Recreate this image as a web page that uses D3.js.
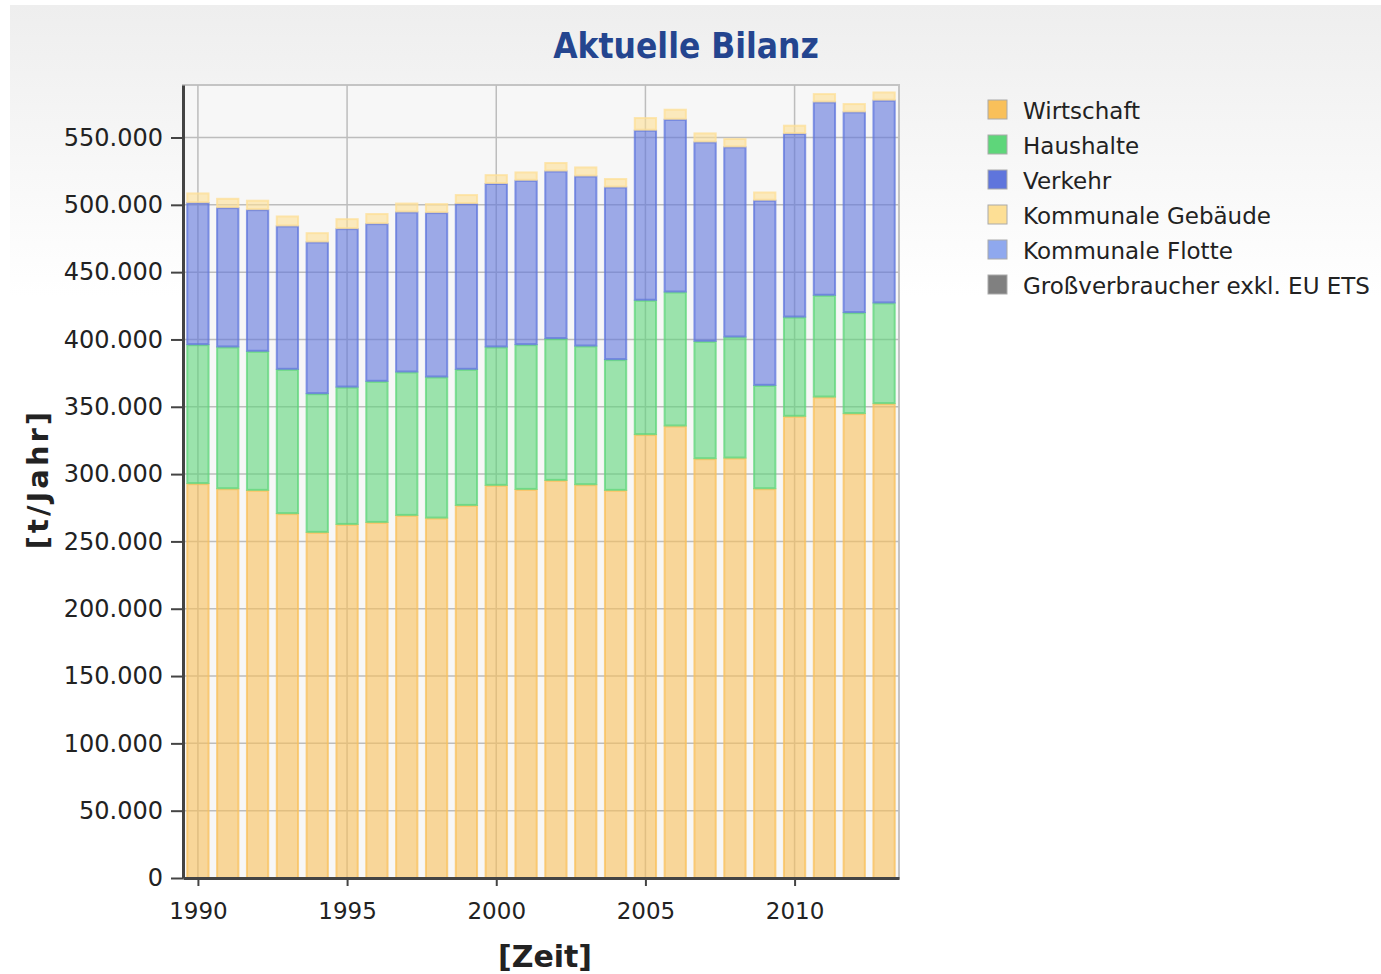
<!DOCTYPE html>
<html lang="de">
<head>
<meta charset="UTF-8">
<title>Aktuelle Bilanz</title>
<script src="https://d3js.org/d3.v7.min.js"></script>
<style>
  body { margin: 0; background: #fff; }
  svg text { font-family: "DejaVu Sans", Verdana, sans-serif; fill: #222; }
</style>
</head>
<body>
<svg id="chart"></svg>
<script>
const years = d3.range(1990, 2014);
const seriesNames = ["Wirtschaft", "Haushalte", "Verkehr", "Kommunale Gebäude", "Kommunale Flotte", "Großverbraucher exkl. EU ETS"];
const seriesColors = ["#f9c05a", "#5ed67a", "#5f75dc", "#fddf95", "#8fa8ee", "#808080"];

// t/Jahr
const wirtschaft = [293300, 289500, 288300, 271000, 257100, 263000, 264500, 269700, 267700, 277100, 292000, 289000,
                    295700, 292500, 288300, 329700, 336100, 311800, 312300, 289500, 343300, 357600, 345300, 352700];
const haushalte  = [103200, 105300, 103300, 107200, 103000, 102000, 104800, 106500, 104800, 101100, 102800, 107500,
                    105300, 103000, 97100, 99800, 99500, 87200, 89900, 76800, 73700, 75600, 75000, 74800];
const verkehr    = [105500, 103500, 105200, 106500, 112700, 117700, 117100, 118900, 122100, 123100, 121400, 122100,
                    124500, 126300, 128200, 126300, 128300, 148100, 141200, 137500, 136300, 143600, 149100, 150600];
const kommGebaeude = [7200, 6900, 7000, 7400, 6900, 7400, 7500, 6600, 6700, 6700, 6600, 6200,
                      6300, 6700, 6300, 9400, 7500, 6700, 6200, 6100, 6200, 6200, 6200, 6100];
const kommFlotte = years.map(() => 0);
const grossverbraucher = years.map(() => 0);

const yTicks = d3.range(0, 550001, 50000);
const xTicks = [1990, 1995, 2000, 2005, 2010];

const W = 1381, H = 974;
const svg = d3.select("#chart").attr("width", W).attr("height", H);

const rows = years.map((y, i) => ({
  year: y,
  "Wirtschaft": wirtschaft[i],
  "Haushalte": haushalte[i],
  "Verkehr": verkehr[i],
  "Kommunale Gebäude": kommGebaeude[i],
  "Kommunale Flotte": kommFlotte[i],
  "Großverbraucher exkl. EU ETS": grossverbraucher[i]
}));
const stacked = d3.stack().keys(seriesNames)(rows);

const plot = { left: 183, right: 899, top: 85, bottom: 878 };
const x = d3.scaleLinear().domain([1989.5, 2013.5]).range([plot.left, plot.right]);
const y = d3.scaleLinear().domain([0, 589000]).range([plot.bottom, plot.top]);
const color = d3.scaleOrdinal().domain(seriesNames).range(seriesColors);
const barW = (x(1) - x(0)) * 0.78;

// background
const defs = svg.append("defs");
const grad = defs.append("linearGradient").attr("id", "bg").attr("x1", 0).attr("y1", 0).attr("x2", 0).attr("y2", 1);
grad.append("stop").attr("offset", "0%").attr("stop-color", "#eeeeee");
grad.append("stop").attr("offset", "30%").attr("stop-color", "#ffffff");
svg.append("rect").attr("x", 10).attr("y", 5).attr("width", W - 10).attr("height", H - 5).attr("fill", "url(#bg)");

svg.append("rect")
  .attr("x", plot.left).attr("y", plot.top)
  .attr("width", plot.right - plot.left).attr("height", plot.bottom - plot.top)
  .attr("fill", "#f7f7f7").attr("stroke", "#c4c4c4").attr("stroke-width", 2);

// grid
svg.append("g").selectAll("line").data(yTicks.filter(d => d > 0)).join("line")
  .attr("x1", plot.left).attr("x2", plot.right)
  .attr("y1", d => y(d)).attr("y2", d => y(d))
  .attr("stroke", "#bdbdbd").attr("stroke-width", 1.5);
svg.append("g").selectAll("line").data(xTicks).join("line")
  .attr("x1", d => x(d)).attr("x2", d => x(d))
  .attr("y1", plot.top).attr("y2", plot.bottom)
  .attr("stroke", "#bdbdbd").attr("stroke-width", 1.5);

// bars
svg.append("g").selectAll("g").data(stacked).join("g")
  .attr("fill", d => color(d.key))
  .attr("stroke", d => color(d.key))
  .selectAll("rect").data(d => d.filter(v => v[1] > v[0])).join("rect")
  .attr("x", d => x(d.data.year) - barW / 2 + 1)
  .attr("width", barW - 2)
  .attr("y", d => y(d[1]) + 1)
  .attr("height", d => Math.max(0, y(d[0]) - y(d[1]) - 1))
  .attr("fill-opacity", 0.6)
  .attr("stroke-opacity", 0.75)
  .attr("stroke-width", 2);

// y axis
const yAxis = svg.append("g")
  .attr("transform", `translate(${plot.left},0)`)
  .call(d3.axisLeft(y).tickValues(yTicks).tickSize(12).tickSizeOuter(0).tickPadding(8)
    .tickFormat(d => d3.format(",")(d).replace(/,/g, ".")));
yAxis.select(".domain").attr("stroke", "#444").attr("stroke-width", 3);
yAxis.selectAll(".tick line").attr("stroke", "#444").attr("stroke-width", 2);
yAxis.selectAll("text").attr("font-size", 24).attr("fill", "#222");

// x axis
const xAxis = svg.append("g")
  .attr("transform", `translate(0,${plot.bottom})`)
  .call(d3.axisBottom(x).tickValues(xTicks).tickSize(8).tickSizeOuter(0).tickPadding(17).tickFormat(d3.format("d")));
xAxis.select(".domain").attr("stroke", "#444").attr("stroke-width", 3);
xAxis.selectAll(".tick line").attr("stroke", "#444").attr("stroke-width", 2);
xAxis.selectAll("text").attr("font-size", 23).attr("fill", "#222");

// titles
svg.append("text")
  .attr("x", 686).attr("y", 58)
  .attr("text-anchor", "middle")
  .style("font-family", "'DejaVu Sans Condensed', 'DejaVu Sans', sans-serif")
  .attr("font-weight", "bold").attr("font-size", 35)
  .style("fill", "#24458f")
  .text("Aktuelle Bilanz");

svg.append("text")
  .attr("transform", "translate(48,479) rotate(-90)")
  .attr("text-anchor", "middle")
  .attr("font-weight", "bold").attr("font-size", 29)
  .attr("letter-spacing", 3)
  .text("[t/Jahr]");

svg.append("text")
  .attr("x", 545).attr("y", 967)
  .attr("text-anchor", "middle")
  .attr("font-weight", "bold").attr("font-size", 30)
  .text("[Zeit]");

// legend
const legend = svg.append("g").attr("transform", "translate(988,100)");
seriesNames.forEach((name, i) => {
  const g = legend.append("g").attr("transform", `translate(0,${i * 35})`);
  g.append("rect").attr("width", 19).attr("height", 19)
    .attr("fill", color(name)).attr("stroke", "#aaa").attr("stroke-width", 1);
  g.append("text").attr("x", 35).attr("y", 19)
    .attr("font-size", 23).text(name);
});
</script>
</body>
</html>
